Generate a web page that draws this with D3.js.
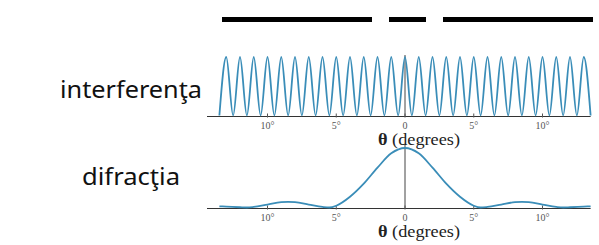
<!DOCTYPE html>
<html>
<head>
<meta charset="utf-8">
<script src="https://cdn.jsdelivr.net/npm/d3@7"></script>
<style>
  body { margin: 0; background: #fff; }
  svg { display: block; }
</style>
</head>
<body>
<div id="chart"></div>
<script>
// interference: extrema (peaks every 1 deg)
var interfTheta = [-13.5, -13, -12.5, -12, -11.5, -11, -10.5, -10, -9.5, -9, -8.5, -8, -7.5, -7, -6.5, -6, -5.5, -5, -4.5, -4, -3.5, -3, -2.5, -2, -1.5, -1, -0.5, 0,
  0.5, 1, 1.5, 2, 2.5, 3, 3.5, 4, 4.5, 5, 5.5, 6, 6.5, 7, 7.5, 8, 8.5, 9, 9.5, 10, 10.5, 11, 11.5, 12, 12.5, 13, 13.5];
var interfValue = [0, 1, 0, 1, 0, 1, 0, 1, 0, 1, 0, 1, 0, 1, 0, 1, 0, 1, 0, 1, 0, 1, 0, 1, 0, 1, 0, 1,
  0, 1, 0, 1, 0, 1, 0, 1, 0, 1, 0, 1, 0, 1, 0, 1, 0, 1, 0, 1, 0, 1, 0, 1, 0, 1, 0];

// diffraction
var diffTheta = [-13.5, -13, -12, -11.5, -11, -10, -9, -8.5, -8, -7, -6, -5.5, -5, -4, -3, -2, -1, 0,
  1, 2, 3, 4, 5, 5.5, 6, 7, 8, 8.5, 9, 10, 11, 11.5, 12, 13, 13.5];
var diffValue = [0.02, 0.015, 0.004, 0, 0.01, 0.05, 0.09, 0.095, 0.09, 0.05, 0.01, 0, 0.03, 0.18, 0.40, 0.67, 0.91, 1,
  0.91, 0.67, 0.40, 0.18, 0.03, 0, 0.01, 0.05, 0.09, 0.095, 0.09, 0.05, 0.01, 0, 0.004, 0.015, 0.02];

var tickValues = [-10, -5, 0, 5, 10];
var tickLabels = ["10°", "5°", "0", "5°", "10°"];

var w = 599, h = 245;

var svg = d3.select("#chart")
  .append("svg")
  .attr("width", w)
  .attr("height", h);

// slit bars at the top
var bars = [[222, 372], [389, 426], [443, 593]];
svg.selectAll(".slit")
  .data(bars)
  .enter().append("rect")
  .attr("class", "slit")
  .attr("x", function(d) { return d[0]; })
  .attr("y", 17)
  .attr("width", function(d) { return d[1] - d[0]; })
  .attr("height", 5)
  .attr("fill", "#000");

var x = d3.scaleLinear().domain([0, 10]).range([405, 542.5]);

function panel(theta, vals, axisY, topY, lineTop, label, labelX, labelY, labelLen) {
  var y = d3.scaleLinear().domain([0, 1]).range([axisY - 1, topY]);
  var g = svg.append("g");

  // axis line
  g.append("line")
    .attr("x1", x(-14.4)).attr("x2", x(13.5))
    .attr("y1", axisY).attr("y2", axisY)
    .attr("stroke", "#333").attr("stroke-width", 1.2);

  // vertical line at 0
  g.append("line")
    .attr("x1", x(0)).attr("x2", x(0))
    .attr("y1", lineTop).attr("y2", axisY)
    .attr("stroke", "#444").attr("stroke-width", 1);

  g.selectAll(".tick")
    .data(tickValues)
    .enter().append("line")
    .attr("x1", function(d) { return x(d); })
    .attr("x2", function(d) { return x(d); })
    .attr("y1", axisY - 3).attr("y2", axisY + 1)
    .attr("stroke", "#555").attr("stroke-width", 1);

  g.selectAll(".ticklabel")
    .data(tickValues)
    .enter().append("text")
    .attr("x", function(d) { return x(d); })
    .attr("y", axisY + 12)
    .attr("text-anchor", "middle")
    .attr("font-family", "Liberation Serif, serif")
    .attr("font-size", 10)
    .attr("fill", "#555")
    .text(function(d, i) { return tickLabels[i]; });

  var line = d3.line()
    .x(function(d, i) { return x(theta[i]); })
    .y(function(d) { return y(d); })
    .curve(d3.curveMonotoneX);

  g.append("path")
    .datum(vals)
    .attr("d", line)
    .attr("fill", "none")
    .attr("stroke", "#3a8db8")
    .attr("stroke-width", 1.8);

  // axis title
  var t = g.append("text")
    .attr("x", 378)
    .attr("y", axisY + 28)
    .attr("font-family", "Liberation Serif, serif")
    .attr("font-size", 16)
    .attr("fill", "#222")
    .attr("textLength", 82)
    .attr("lengthAdjust", "spacingAndGlyphs");
  t.append("tspan").attr("font-weight", "bold").text("θ");
  t.append("tspan").text(" (degrees)");

  // side label
  svg.append("text")
    .attr("x", labelX)
    .attr("y", labelY)
    .attr("font-family", "'Comic Sans MS', 'Noto Sans', sans-serif")
    .attr("font-size", 23)
    .attr("fill", "#111")
    .attr("textLength", labelLen)
    .attr("lengthAdjust", "spacingAndGlyphs")
    .text(label);
}

panel(interfTheta, interfValue, 116.5, 57, 55, "interferenţa", 60, 98, 142);
panel(diffTheta, diffValue, 208.5, 148, 145, "difracţia", 82, 185, 98);
</script>
</body>
</html>
